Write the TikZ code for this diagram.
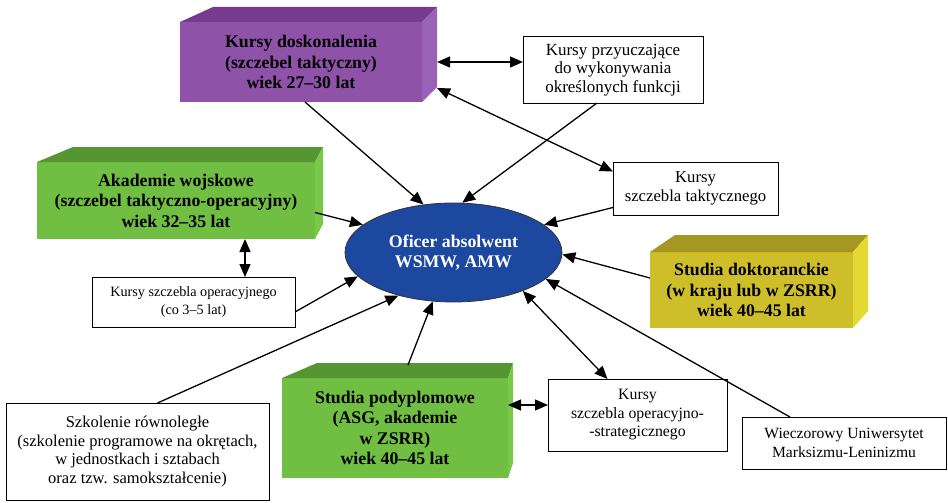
\documentclass[tikz,border=0pt]{standalone}
\usepackage{fontspec}
\setmainfont{Liberation Serif}
\usetikzlibrary{positioning}
\usetikzlibrary{arrows.meta}
\usetikzlibrary{shapes.geometric}
\usetikzlibrary{calc}

\definecolor{purplefront}{RGB}{142,82,168}
\definecolor{purpletop}{RGB}{118,58,142}
\definecolor{purpleside}{RGB}{154,98,182}
\definecolor{greenfront}{RGB}{112,190,66}
\definecolor{greentop}{RGB}{86,150,50}
\definecolor{greenside}{RGB}{120,200,74}
\definecolor{yellowfront}{RGB}{206,190,42}
\definecolor{yellowtop}{RGB}{166,150,34}
\definecolor{yellowside}{RGB}{228,216,50}
\definecolor{ovalblue}{RGB}{28,72,160}

\tikzset{
   block/.style = {%
    shape=rectangle,
    fill=#1,
    outer sep=0pt,
    align=center,
    font=\fontsize{17.8}{20.5}\selectfont\bfseries},
   wbox/.style = {%
    shape=rectangle,
    draw=black,
    line width=1pt,
    fill=white,
    outer sep=0pt,
    align=center,
    font=\fontsize{#1}{18.5}\selectfont},
   oval/.style = {%
    ellipse,
    draw=black!80,
    line width=0.8pt,
    fill=ovalblue,
    text=white,
    inner sep=0pt,
    align=center,
    font=\fontsize{17.8}{20}\selectfont\bfseries},
   arrow/.style = {%
    draw,
    line width=1.3pt,% <-- select desired width
    -{Triangle[length=13pt,width=11pt]}},
   darrow/.style = {%
    arrow,
    {Triangle[length=13pt,width=11pt]}-{Triangle[length=13pt,width=11pt]}},
}

% top and side face of a block: node, left dx, right dx, depth, colours
\newcommand{\blockfaces}[6]{%
  \fill[#5] (#1.north west) -- ++(#2,-#4) -- ($(#1.north east)+(#3,-#4)$) -- (#1.north east) -- cycle;
  \fill[#6] (#1.north east) -- ++(#3,-#4) -- ($(#1.south east)+(#3,-#4)$) -- (#1.south east) -- cycle;
}

\begin{document}
\begin{tikzpicture}[x=1pt,y=-1pt]
    \useasboundingbox (0,0) rectangle (948,503);

    % 3d blocks
    \node[block=purplefront, minimum width=242, minimum height=80] (kd) at (301,62)
        {Kursy doskonalenia\\(szczebel taktyczny)\\wiek 27--30 lat};
    \node[block=greenfront, minimum width=278, minimum height=77] (aw) at (176,200.5)
        {Akademie wojskowe\\(szczebel taktyczno-operacyjny)\\wiek 32--35 lat};
    \node[block=yellowfront, minimum width=203, minimum height=76] (sd) at (751.5,290)
        {Studia doktoranckie\\(w kraju lub w ZSRR)\\wiek 40--45 lat};
    \node[block=greenfront, minimum width=226, minimum height=100] (sp) at (395,428)
        {Studia podyplomowe\\(ASG, akademie\\w ZSRR)\\wiek 40--45 lat};
    \blockfaces{kd}{33}{15}{15}{purpletop}{purpleside}
    \blockfaces{aw}{36}{8}{15}{greentop}{greenside}
    \blockfaces{sd}{25}{15}{17}{yellowtop}{yellowside}
    \blockfaces{sp}{35}{5}{15}{greentop}{greenside}

    % white boxes
    \node[wbox=17, minimum width=180, minimum height=66] (kp) at (613,70)
        {Kursy przyuczające\\do wykonywania\\określonych funkcji};
    \node[wbox=16.7, minimum width=165, minimum height=53] (kt) at (695.5,188.5)
        {Kursy\\szczebla taktycznego};
    \node[wbox=14.2, minimum width=203, minimum height=50] (ko) at (193.5,302)
        {Kursy szczebla operacyjnego\\(co 3--5 lat)};
    \node[wbox=16.5, minimum width=263, minimum height=97] (sr) at (137.5,451.5)
        {Szkolenie równoległe\\(szkolenie programowe na okrętach,\\w jednostkach i sztabach\\oraz tzw. samokształcenie)};
    \node[wbox=15.8, minimum width=179, minimum height=72] (ks) at (637.5,415)
        {Kursy\\szczebla operacyjno-\\-strategicznego};
    \node[wbox=15.6, minimum width=204, minimum height=52] (wu) at (844,443)
        {Wieczorowy Uniwersytet\\Marksizmu-Leninizmu};

    % centre
    \node[oval, minimum width=217, minimum height=99] (of) at (453.5,252.5)
        {Oficer absolwent\\WSMW, AMW};

    % connectors
    \draw[arrow] ([xshift=4]kd.south) -- (of.122);
    \draw[arrow] ([xshift=-16]kp.south) -- (of.80);
    \draw[darrow] ([xshift=15]kd.east) -- (kd.east -| kp.west);
    \draw[darrow] ([xshift=15,yshift=-26]kd.east) -- ([yshift=17]kt.west);
    \draw[arrow] ([yshift=-19]kt.west) -- (of.17);
    \draw[arrow] ([yshift=-12]aw.east) -- (of.163);
    \draw[darrow] ([xshift=69]aw.south) -- ([xshift=69]aw.south |- ko.north);
    \draw[arrow] ([yshift=-10]ko.east) -- (of.194);
    \draw[arrow] ([xshift=20]sr.north) -- (of.218);
    \draw[arrow] ([xshift=13,yshift=13]sp.north) -- (of.247);
    \draw[darrow] ([yshift=23]sp.east) -- ([yshift=23]sp.east -| ks.west);
    \draw[darrow] (of.331) -- ([xshift=-30]ks.north);
    \draw[arrow] ([xshift=-54]wu.north) -- (of.344);
    \draw[arrow] ([yshift=12]sd.west) -- (of.359);
\end{tikzpicture}
\end{document}
